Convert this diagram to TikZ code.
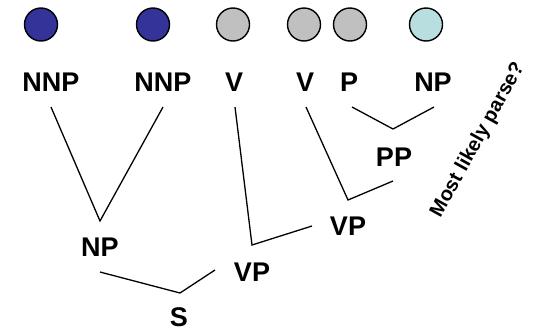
\documentclass[tikz,border=0pt]{standalone}
\usepackage{fontspec}
\setmainfont{Liberation Sans}
\begin{document}
\begin{tikzpicture}[x=1pt,y=-1pt,
  lab/.style={font=\fontsize{27}{30}\selectfont\bfseries, inner sep=0pt},
  dot/.style={circle, draw=black, line width=1.4pt, minimum size=33pt, inner sep=0pt},
  edge/.style={line width=1.3pt, line join=miter}]
\definecolor{dblue}{RGB}{51,51,153}
\definecolor{lgray}{RGB}{192,192,192}
\definecolor{lcyan}{RGB}{184,222,224}
\useasboundingbox (0,0) rectangle (537,330);
% circles
\node[dot, fill=dblue] (c1) at (41,24.5) {};
\node[dot, fill=dblue] (c2) at (153,24.5) {};
\node[dot, fill=lgray] (c3) at (233,24.5) {};
\node[dot, fill=lgray] (c4) at (304,24.5) {};
\node[dot, fill=lgray] (c5) at (350,24.5) {};
\node[dot, fill=lcyan] (c6) at (426,24.5) {};
% labels
\node[lab] (nnp1) at (51,82) {NNP};
\node[lab] (nnp2) at (163,82) {NNP};
\node[lab] (v1) at (234,82) {V};
\node[lab] (v2) at (305,82) {V};
\node[lab] (p) at (349,82) {P};
\node[lab] (np2) at (433,82) {NP};
\node[lab] (pp) at (394,157) {PP};
\node[lab] (vp2) at (348,226) {VP};
\node[lab] (vp1) at (252,272) {VP};
\node[lab] (np1) at (100,247) {NP};
\node[lab] (s) at (179,317) {S};
\node[font=\fontsize{20}{23}\selectfont\bfseries, rotate=61, inner sep=0pt] (q) at (478,140) {Most likely parse?};
% joints
\coordinate (a1) at (51,107);
\coordinate (a2) at (163,107);
\coordinate (jnp) at (100,221);
\coordinate (a3) at (235,107);
\coordinate (jvp1) at (252,245);
\coordinate (e1) at (312,226);
\coordinate (a4) at (306,107);
\coordinate (jvp2) at (348,200);
\coordinate (e2) at (393,181);
\coordinate (a5) at (352,107);
\coordinate (jpp) at (393,129);
\coordinate (a6) at (434,107);
\coordinate (a7) at (100,272);
\coordinate (js) at (180,293);
\coordinate (e3) at (215,270);
% edges
\draw[edge] (a1) -- (jnp) -- (a2);
\draw[edge] (a3) -- (jvp1) -- (e1);
\draw[edge] (a4) -- (jvp2) -- (e2);
\draw[edge] (a5) -- (jpp) -- (a6);
\draw[edge] (a7) -- (js) -- (e3);
\end{tikzpicture}
\end{document}
